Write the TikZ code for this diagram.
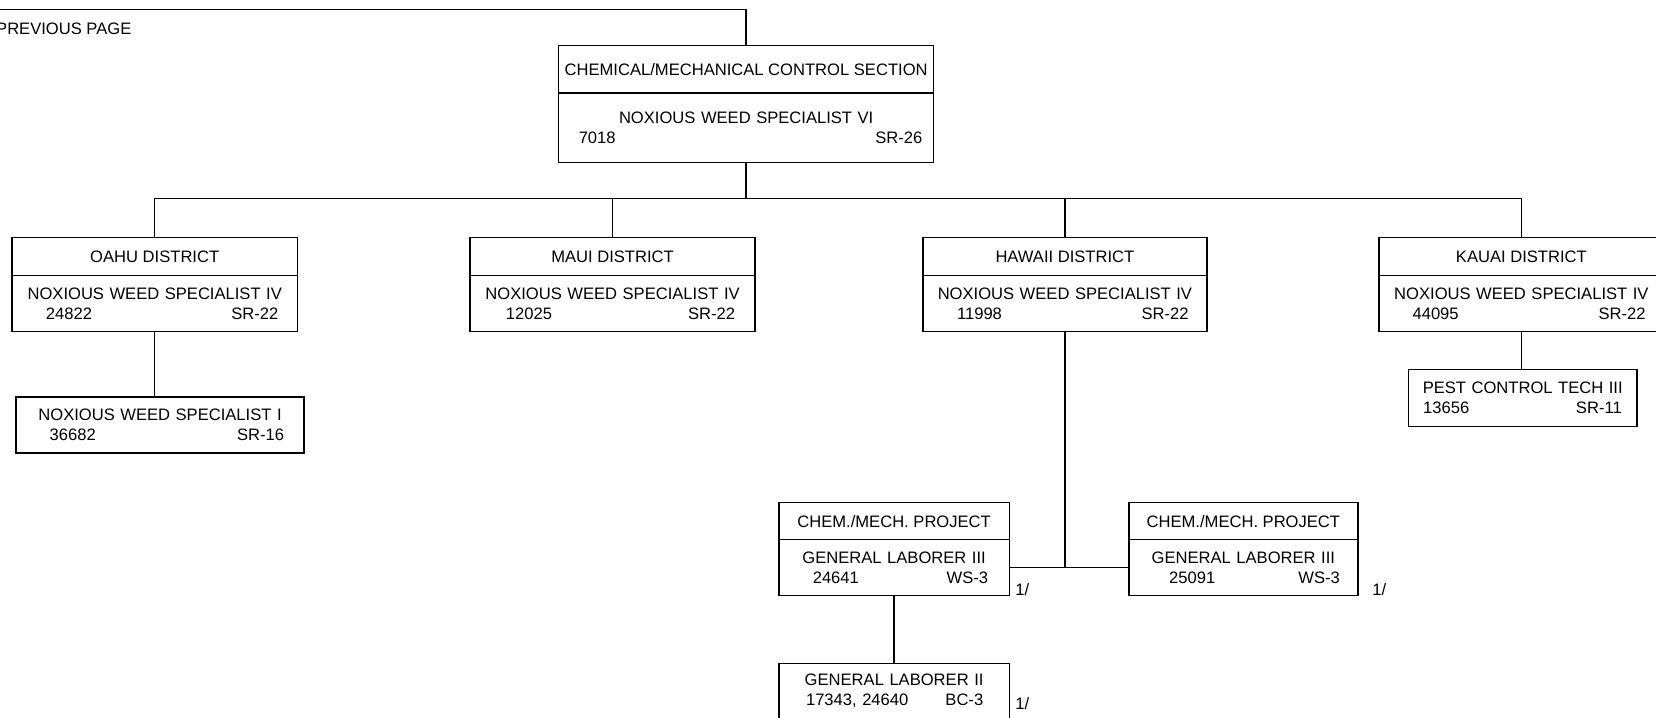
\documentclass[tikz,border=0pt]{standalone}
\usepackage{fontspec}
\setmainfont{Liberation Sans}
\usetikzlibrary{positioning}
\tikzset{font=\fontsize{7.85}{9.5}\selectfont}
\tikzset{
  unithead/.style={draw, line width=0.7pt, inner sep=0pt, outer sep=0pt, minimum height=18pt},
  unitbody/.style={draw, line width=0.7pt, inner xsep=2pt, inner ysep=0pt, outer sep=0pt, align=center, minimum height=26.5pt},
  orgline/.style={line width=0.7pt}
}
% number left, grade right, with indents in pt
\newcommand{\posn}[4]{\hspace*{#1pt}#3\hfill#4\hspace*{#2pt}\null}

\begin{document}
\begin{tikzpicture}[x=0.5pt, y=-0.5pt]
  \useasboundingbox (0,0) rectangle (1568,679);

  \node[anchor=west, inner sep=0pt] (prevtxt) at (-4,27) {PREVIOUS PAGE};
  \coordinate (prevpage) at (-5,9);
  \coordinate (bus) at (0,188);

  \node[unithead, minimum width=177.5pt, minimum height=22.5pt] (chemh) at (706.5,65.5) {CHEMICAL/MECHANICAL CONTROL SECTION};
  \node[unitbody, text width=173.5pt, minimum height=33pt, below=0pt of chemh] (chem) {NOXIOUS WEED SPECIALIST VI\\ \posn{7.5}{3.3}{7018}{SR-26}};

  % districts
  \node[unithead, minimum width=135pt] (oahuh) at (146.5,243) {OAHU DISTRICT};
  \node[unitbody, text width=131pt, below=0pt of oahuh] (oahu) {NOXIOUS WEED SPECIALIST IV\\ \posn{14}{7}{24822}{SR-22}};
  \node[unithead, minimum width=135pt] (mauih) at (580,243) {MAUI DISTRICT};
  \node[unitbody, text width=131pt, below=0pt of mauih] (maui) {NOXIOUS WEED SPECIALIST IV\\ \posn{15}{7.5}{12025}{SR-22}};
  \node[unithead, minimum width=134.5pt] (hawaiih) at (1008.3,243) {HAWAII DISTRICT};
  \node[unitbody, text width=130.5pt, below=0pt of hawaiih] (hawaii) {NOXIOUS WEED SPECIALIST IV\\ \posn{14.2}{6.7}{11998}{SR-22}};
  \node[unithead, minimum width=135pt] (kauaih) at (1440.5,243) {KAUAI DISTRICT};
  \node[unitbody, text width=131pt, below=0pt of kauaih] (kauai) {NOXIOUS WEED SPECIALIST IV\\ \posn{14}{6.7}{44095}{SR-22}};

  \node[unitbody, text width=132.5pt] (oahuws) at (151.5,402.5) {NOXIOUS WEED SPECIALIST I\\ \posn{14}{7.5}{36682}{SR-16}};
  \node[unitbody, text width=104.25pt, minimum height=27pt] (kauaipct) at (1441.8,377) {PEST CONTROL TECH III\\ \posn{5}{5.25}{13656}{SR-11}};

  % hawaii projects
  \node[unithead, minimum width=109pt, minimum height=17.5pt] (projlh) at (846.6,493.5) {CHEM./MECH. PROJECT};
  \node[unitbody, text width=105pt, below=0pt of projlh] (projl) {GENERAL LABORER III\\ \posn{14}{8}{24641}{WS-3}};
  \node[unithead, minimum width=108.3pt, minimum height=17.5pt] (projrh) at (1177.3,493.5) {CHEM./MECH. PROJECT};
  \node[unitbody, text width=104.3pt, below=0pt of projrh] (projr) {GENERAL LABORER III\\ \posn{17}{6.5}{25091}{WS-3}};
  \node[unitbody, text width=105pt] (labii) at (846.6,654.5) {GENERAL LABORER II\\ \posn{10.8}{10.3}{17343, 24640}{BC-3}};

  \node (note1) at (968,558.6) {1/};
  \node (note2) at (1306,558.7) {1/};
  \node (note3) at (968,666) {1/};

  \draw[orgline] (prevpage) -| (chemh.north);
  \draw[orgline] (chem.south) -- (chem.south |- bus);
  \draw[orgline] (oahuh.north) -- (oahuh.north |- bus) -- (kauaih.north |- bus) -- (kauaih.north);
  \foreach \dist in {mauih, hawaiih}{
    \draw[orgline] (\dist.north) -- (\dist.north |- bus);
  }
  \draw[orgline] (oahu.south) -- (oahu.south |- oahuws.north);
  \draw[orgline] (kauai.south) -- (kauai.south |- kauaipct.north);
  \draw[orgline] (hawaii.south) -- (hawaii.south |- projl.east);
  \draw[orgline] (projl.east) -- (projr.west);
  \draw[orgline] (projl.south) -- (projl.south |- labii.north);
\end{tikzpicture}
\end{document}
